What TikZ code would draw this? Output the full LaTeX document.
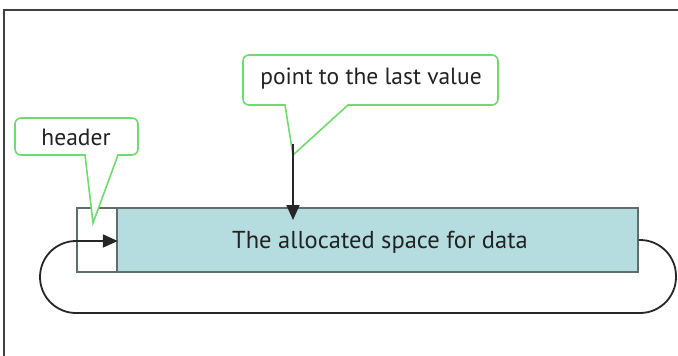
\documentclass[tikz,border=0pt]{standalone}
\usepackage{fontspec}
\setmainfont{PT Sans}
\usetikzlibrary{arrows.meta}
\definecolor{teal1}{HTML}{B5DDE0}
\definecolor{boxline}{HTML}{5E6E6E}
\definecolor{callgreen}{HTML}{70DA70}
\definecolor{textgray}{HTML}{222222}
\tikzset{
  callout/.style={draw=callgreen, line width=1.6pt, fill=white},
  lbl/.style={text=textgray, font=\fontsize{23.5}{27}\selectfont, inner sep=0pt},
  cell/.style={draw=boxline, line width=1.6pt, minimum height=64pt, inner sep=0pt},
  link/.style={draw=black!85, line width=1.8pt},
  tip/.style={-{Triangle[length=15pt,width=13pt]}}
}
\begin{document}
\begin{tikzpicture}[x=1pt,y=-1pt]
\useasboundingbox (0,0) rectangle (678,356);
% frame
\draw[black!75, line width=2pt] (4,356) -- (4,10) -- (678,10);
% boxes
\node[cell, fill=white, minimum width=40pt] (hbox) at (97,240) {};
\node[cell, fill=teal1, minimum width=521pt] (data) at (377.5,240) {};
\node[lbl, font=\fontsize{24.5}{28}\selectfont] (datatext) at (380,242) {The allocated space for data};
% header callout
\draw[callout, rounded corners=6pt] (15,118) -- (138,118) -- (138,155) [sharp corners]-- (118,155) -- (93,223) -- (85,155) [rounded corners=6pt]-- (15,155) -- cycle;
\node[lbl] (hdr) at (76,137) {header};
% last value callout
\draw[callout, rounded corners=6pt] (243,55) -- (498,55) -- (498,105) [sharp corners]-- (348,105) -- (293,155) -- (285,105) [rounded corners=6pt]-- (243,105) -- cycle;
\node[lbl] (ptr) at (371,79) {point to the last value};
% pointer arrow
\coordinate (ptip) at (293,144);
\coordinate (pend) at (293,220);
\draw[link, tip] (ptip) -- (pend);
% loop
\coordinate (r1) at (676,240);
\coordinate (r2) at (676,313);
\coordinate (l1) at (40,313);
\coordinate (l2) at (40,241);
\draw[link, rounded corners=36pt, tip] (data.east) -- (r1) -- (r2) -- (l1) -- (l2) -- (hbox.east |- l2);
\end{tikzpicture}
\end{document}
